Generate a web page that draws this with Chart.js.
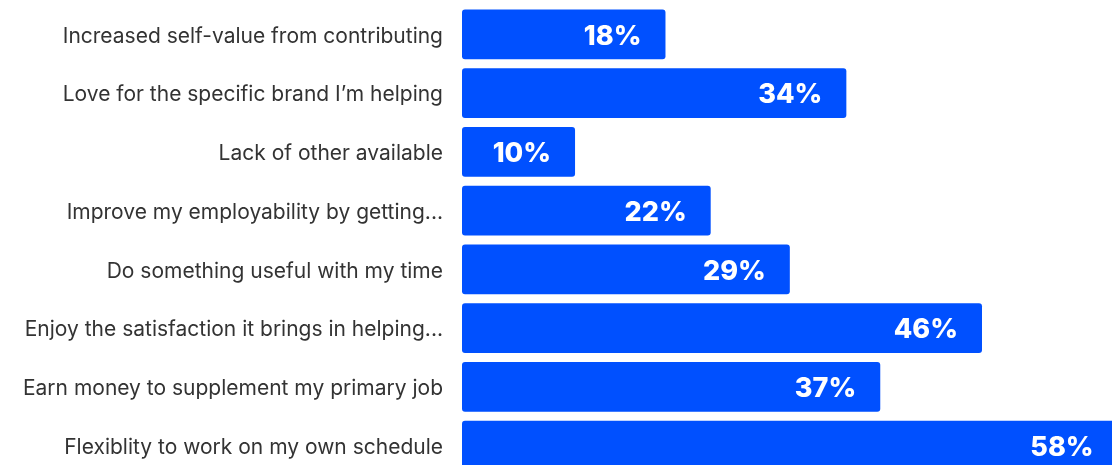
<!doctype html>
<html lang="en">
  <head>
    <meta charset="utf-8">
    <title>Motivations</title>
    <style>
      * { margin: 0; padding: 0; }
      html, body { width: 1112px; height: 465px; overflow: hidden; background: #fff; }
      .chartBox { position: relative; width: 1112px; height: 475px; }
    </style>
  </head>
  <body>
    <div class="chartBox">
      <canvas id="myChart"></canvas>
    </div>
    <script src="https://cdn.jsdelivr.net/npm/chart.js/dist/chart.umd.min.js"></script>
    <script>
    // setup
    const reasons = [
      'Increased self-value from contributing',
      'Love for the specific brand I\u2019m helping',
      'Lack of other available',
      'Improve my employability by getting...',
      'Do something useful with my time',
      'Enjoy the satisfaction it brings in helping...',
      'Earn money to supplement my primary job',
      'Flexiblity to work on my own schedule'
    ];
    const shares = [18, 34, 10, 22, 29, 46, 37, 58];

    // white percentage inside the end of each bar
    const barValues = {
      id: 'barValues',
      afterDatasetsDraw(chart) {
        const { ctx } = chart;
        const meta = chart.getDatasetMeta(0);
        ctx.save();
        ctx.font = '800 27px Inter, sans-serif';
        ctx.fillStyle = '#ffffff';
        ctx.textAlign = 'right';
        ctx.textBaseline = 'middle';
        meta.data.forEach((bar, i) => {
          ctx.fillText(shares[i] + '%', bar.x - 24, bar.y + 2);
        });
        ctx.restore();
      }
    };

    const config = {
      type: 'bar',
      data: {
        labels: reasons,
        datasets: [{
          data: shares,
          backgroundColor: '#0050ff',
          borderRadius: 3,
          borderSkipped: false,
          categoryPercentage: 1,
          barPercentage: 0.85
        }]
      },
      options: {
        indexAxis: 'y',
        responsive: true,
        maintainAspectRatio: false,
        animation: false,
        layout: { padding: { top: 5, right: 0, bottom: 0, left: 0 } },
        scales: {
          x: {
            min: 0,
            max: 57.5,
            display: false
          },
          y: {
            grid: { display: false },
            border: { display: false },
            ticks: {
              color: '#333333',
              padding: 11,
              labelOffset: 2,
              font: { family: 'Inter, sans-serif', size: 21 }
            },
            afterFit(scale) {
              scale.width = 462;
              // no extra room above/below for the first and last labels
              scale.paddingTop = 0;
              scale.paddingBottom = 0;
            }
          }
        },
        plugins: {
          legend: { display: false },
          tooltip: { enabled: false }
        }
      },
      plugins: [barValues]
    };

    const myChart = new Chart(document.getElementById('myChart'), config);
    </script>
  </body>
</html>
